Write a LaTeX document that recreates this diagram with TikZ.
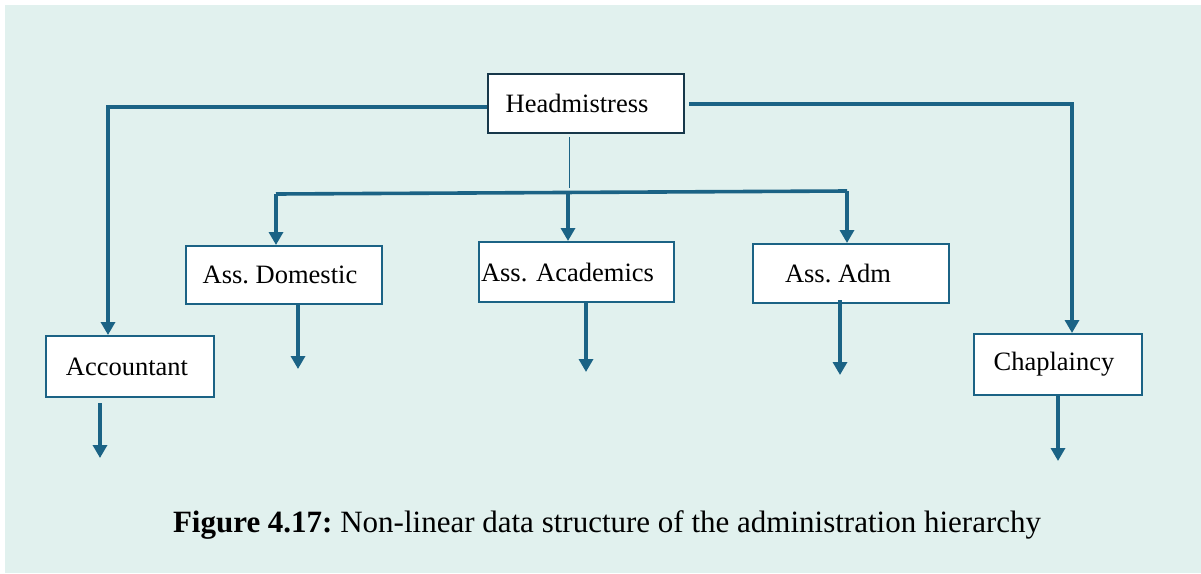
\documentclass[tikz,border=0pt]{standalone}
\usepackage{fontspec}
\setmainfont{Liberation Serif}
\frenchspacing
\usetikzlibrary{arrows.meta}
\definecolor{mint}{HTML}{E1F1EE}
\definecolor{linkblue}{HTML}{1B6385}
\definecolor{darkframe}{HTML}{17384A}
% trailing space that nudges a centred label to the left
\newcommand{\leftnudge}[1]{\kern#1pt}
\begin{document}
\begin{tikzpicture}[x=1pt,y=-1pt,
  officebox/.style={draw=linkblue,line width=2pt,fill=white,inner sep=0pt,
    font=\fontsize{26.5}{30}\selectfont},
  link/.style={draw=linkblue,line width=3.6pt},
  arrowlink/.style={link,-{Triangle[width=14pt,length=13pt]}}]
  % page and tinted panel
  \useasboundingbox (0,0) rectangle (1201,573);
  \fill[white] (0,0) rectangle (1201,573);
  \fill[mint] (5,5) rectangle (1201,573);

  % offices
  \node[officebox,draw=darkframe,line width=2.4pt,minimum width=196pt,minimum height=59pt] (head) at (586,103.5) {Headmistress\leftnudge{18}};
  \node[officebox,minimum width=196pt,minimum height=58pt] (dom) at (284,275) {Ass. Domestic\leftnudge{8}};
  \node[officebox,minimum width=195pt,minimum height=60pt,text width=191pt,align=left] (acad) at (576.5,272) {Ass. Academics};
  \node[officebox,minimum width=196pt,minimum height=59pt] (adm) at (851,273.5) {Ass. Adm\leftnudge{26}};
  \node[officebox,minimum width=168pt,minimum height=61pt] (acc) at (130,366.5) {Accountant\leftnudge{6}};
  \node[officebox,minimum width=168pt,minimum height=61pt] (chap) at (1058,364.5) {Chaplaincy\leftnudge{8}};

  % branch points and free ends
  \coordinate (stem) at (569,137);
  \coordinate (fork) at (569,188);
  \coordinate (domEnd) at (298,369);
  \coordinate (acadEnd) at (586,372);
  \coordinate (admEnd) at (840,375);
  \coordinate (accEnd) at (100,458);
  \coordinate (chapEnd) at (1058,461);

  % headmistress to accountant and chaplaincy
  \draw[arrowlink] (head.west |- 0,107) -- (108,107) -- (acc.north -| 108,0);
  \draw[arrowlink] ([xshift=4pt]head.east |- 0,104) -- (1072,104) -- (chap.north -| 1072,0);

  % headmistress to the three assistants
  \draw[draw=linkblue,line width=1pt] (stem) -- (fork);
  \draw[link] (276,194) -- (847,191);
  \draw[arrowlink] (276,194) -- (dom.north -| 276,0);
  \draw[arrowlink] (568,192.5) -- (acad.north -| 568,0);
  \draw[arrowlink] (847,191) -- (adm.north -| 847,0);

  % onward links below each office
  \draw[arrowlink] (dom.south -| 298,0) -- (domEnd);
  \draw[arrowlink] (acad.south -| 586,0) -- (acadEnd);
  \draw[arrowlink] ([yshift=4pt]adm.south -| 840,0) -- (admEnd);
  \draw[arrowlink] ([yshift=-5pt]acc.south -| 100,0) -- (accEnd);
  \draw[arrowlink] (chap.south -| 1058,0) -- (chapEnd);

  % caption
  \node[font=\fontsize{31}{36}\selectfont] (caption) at (607,525)
    {\textbf{Figure 4.17:} Non-linear data structure of the administration hierarchy};
\end{tikzpicture}
\end{document}
